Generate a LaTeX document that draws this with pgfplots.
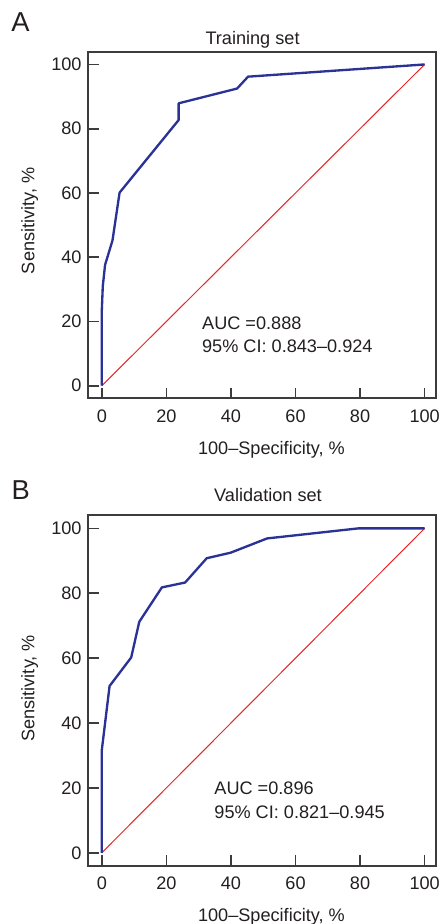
\documentclass[border=0pt]{standalone}
\usepackage{pgfplots}
\pgfplotsset{compat=1.18}
\usepackage{fontspec}
\setmainfont{Liberation Sans}
\definecolor{rocblue}{RGB}{43,50,150}
\definecolor{rocred}{RGB}{228,40,40}
\definecolor{framec}{RGB}{60,60,60}
\definecolor{txt}{RGB}{35,31,32}
\pgfplotsset{rocax/.style={
  scale only axis, width=260.5pt,
  xmin=-4.2, xmax=103.4,
  xtick={0,20,40,60,80,100}, ytick={0,20,40,60,80,100},
  tick pos=left, tick align=inside, major tick length=8pt,
  axis line style={framec, line width=1.5pt},
  every tick/.style={framec, line width=1.2pt},
  tick label style={font=\fontsize{13.6}{16}\selectfont, text=txt},
  /pgf/number format/assume math mode=true,
  xticklabel style={yshift=-5pt},
  yticklabel style={xshift=-1.5pt},
  clip=false,
}}
\begin{document}
\begin{tikzpicture}
\path[use as bounding box] (0,0) rectangle (332.25pt,-693pt);
% Panel A
\begin{axis}[rocax, height=260pt, ymin=-3.9, ymax=104, at={(66.2pt,-298.7pt)}, anchor=south west]
\addplot[rocred, line width=0.75pt] coordinates {(0,0) (100,100)};
\addplot[rocblue, line width=1.75pt, line join=round] coordinates {
(0,0) (0,23.6) (0.3,31) (1.0,37.6) (3.3,45.2) (5.5,60.1) (23.8,82.7) (23.8,87.9) (41.9,92.5) (45.3,96.2) (100,100)};
\node[anchor=west, inner sep=0pt, text=txt, font=\fontsize{13.6}{16}\selectfont] at (axis cs:31,19.5) {AUC =0.888};
\node[anchor=west, inner sep=0pt, text=txt, font=\fontsize{13.6}{16}\selectfont] at (axis cs:31,12.2) {95\% CI: 0.843–0.924};
\end{axis}
% Panel B
\begin{axis}[rocax, height=263pt, ymin=-4.0, ymax=104.1, at={(66.2pt,-649.3pt)}, anchor=south west]
\addplot[rocred, line width=0.75pt] coordinates {(0,0) (100,100)};
\addplot[rocblue, line width=1.75pt, line join=round] coordinates {
(0,0) (0,31.7) (2.4,51.4) (9.1,60.2) (11.6,71.2) (18.6,81.8) (25.8,83.3) (32.5,90.8) (39.9,92.5) (51.2,96.9) (79.5,100) (100,100)};
\node[anchor=west, inner sep=0pt, text=txt, font=\fontsize{13.6}{16}\selectfont] at (axis cs:34.8,19.9) {AUC =0.896};
\node[anchor=west, inner sep=0pt, text=txt, font=\fontsize{13.6}{16}\selectfont] at (axis cs:34.8,12.6) {95\% CI: 0.821–0.945};
\end{axis}
% labels
\begin{scope}[every node/.style={text=txt, inner sep=0pt}]
\node[font=\fontsize{20.5}{24}\selectfont] at (15.4pt,-16.7pt) {A};
\node[font=\fontsize{20.5}{24}\selectfont] at (15.6pt,-367.5pt) {B};
\node[anchor=base, font=\fontsize{13.6}{16}\selectfont] at (189.4pt,-33.75pt) {Training set};
\node[anchor=base, font=\fontsize{13.6}{16}\selectfont] at (201pt,-376.3pt) {Validation set};
\node[anchor=base, font=\fontsize{13.6}{16}\selectfont] at (203.6pt,-340.5pt) {100–Specificity, \%};
\node[anchor=base, font=\fontsize{13.6}{16}\selectfont] at (203.6pt,-691pt) {100–Specificity, \%};
\node[anchor=base, rotate=90, font=\fontsize{13.6}{16}\selectfont] at (25.7pt,-165.6pt) {Sensitivity, \%};
\node[anchor=base, rotate=90, font=\fontsize{13.6}{16}\selectfont] at (25.7pt,-516.2pt) {Sensitivity, \%};
\end{scope}
\end{tikzpicture}
\end{document}
